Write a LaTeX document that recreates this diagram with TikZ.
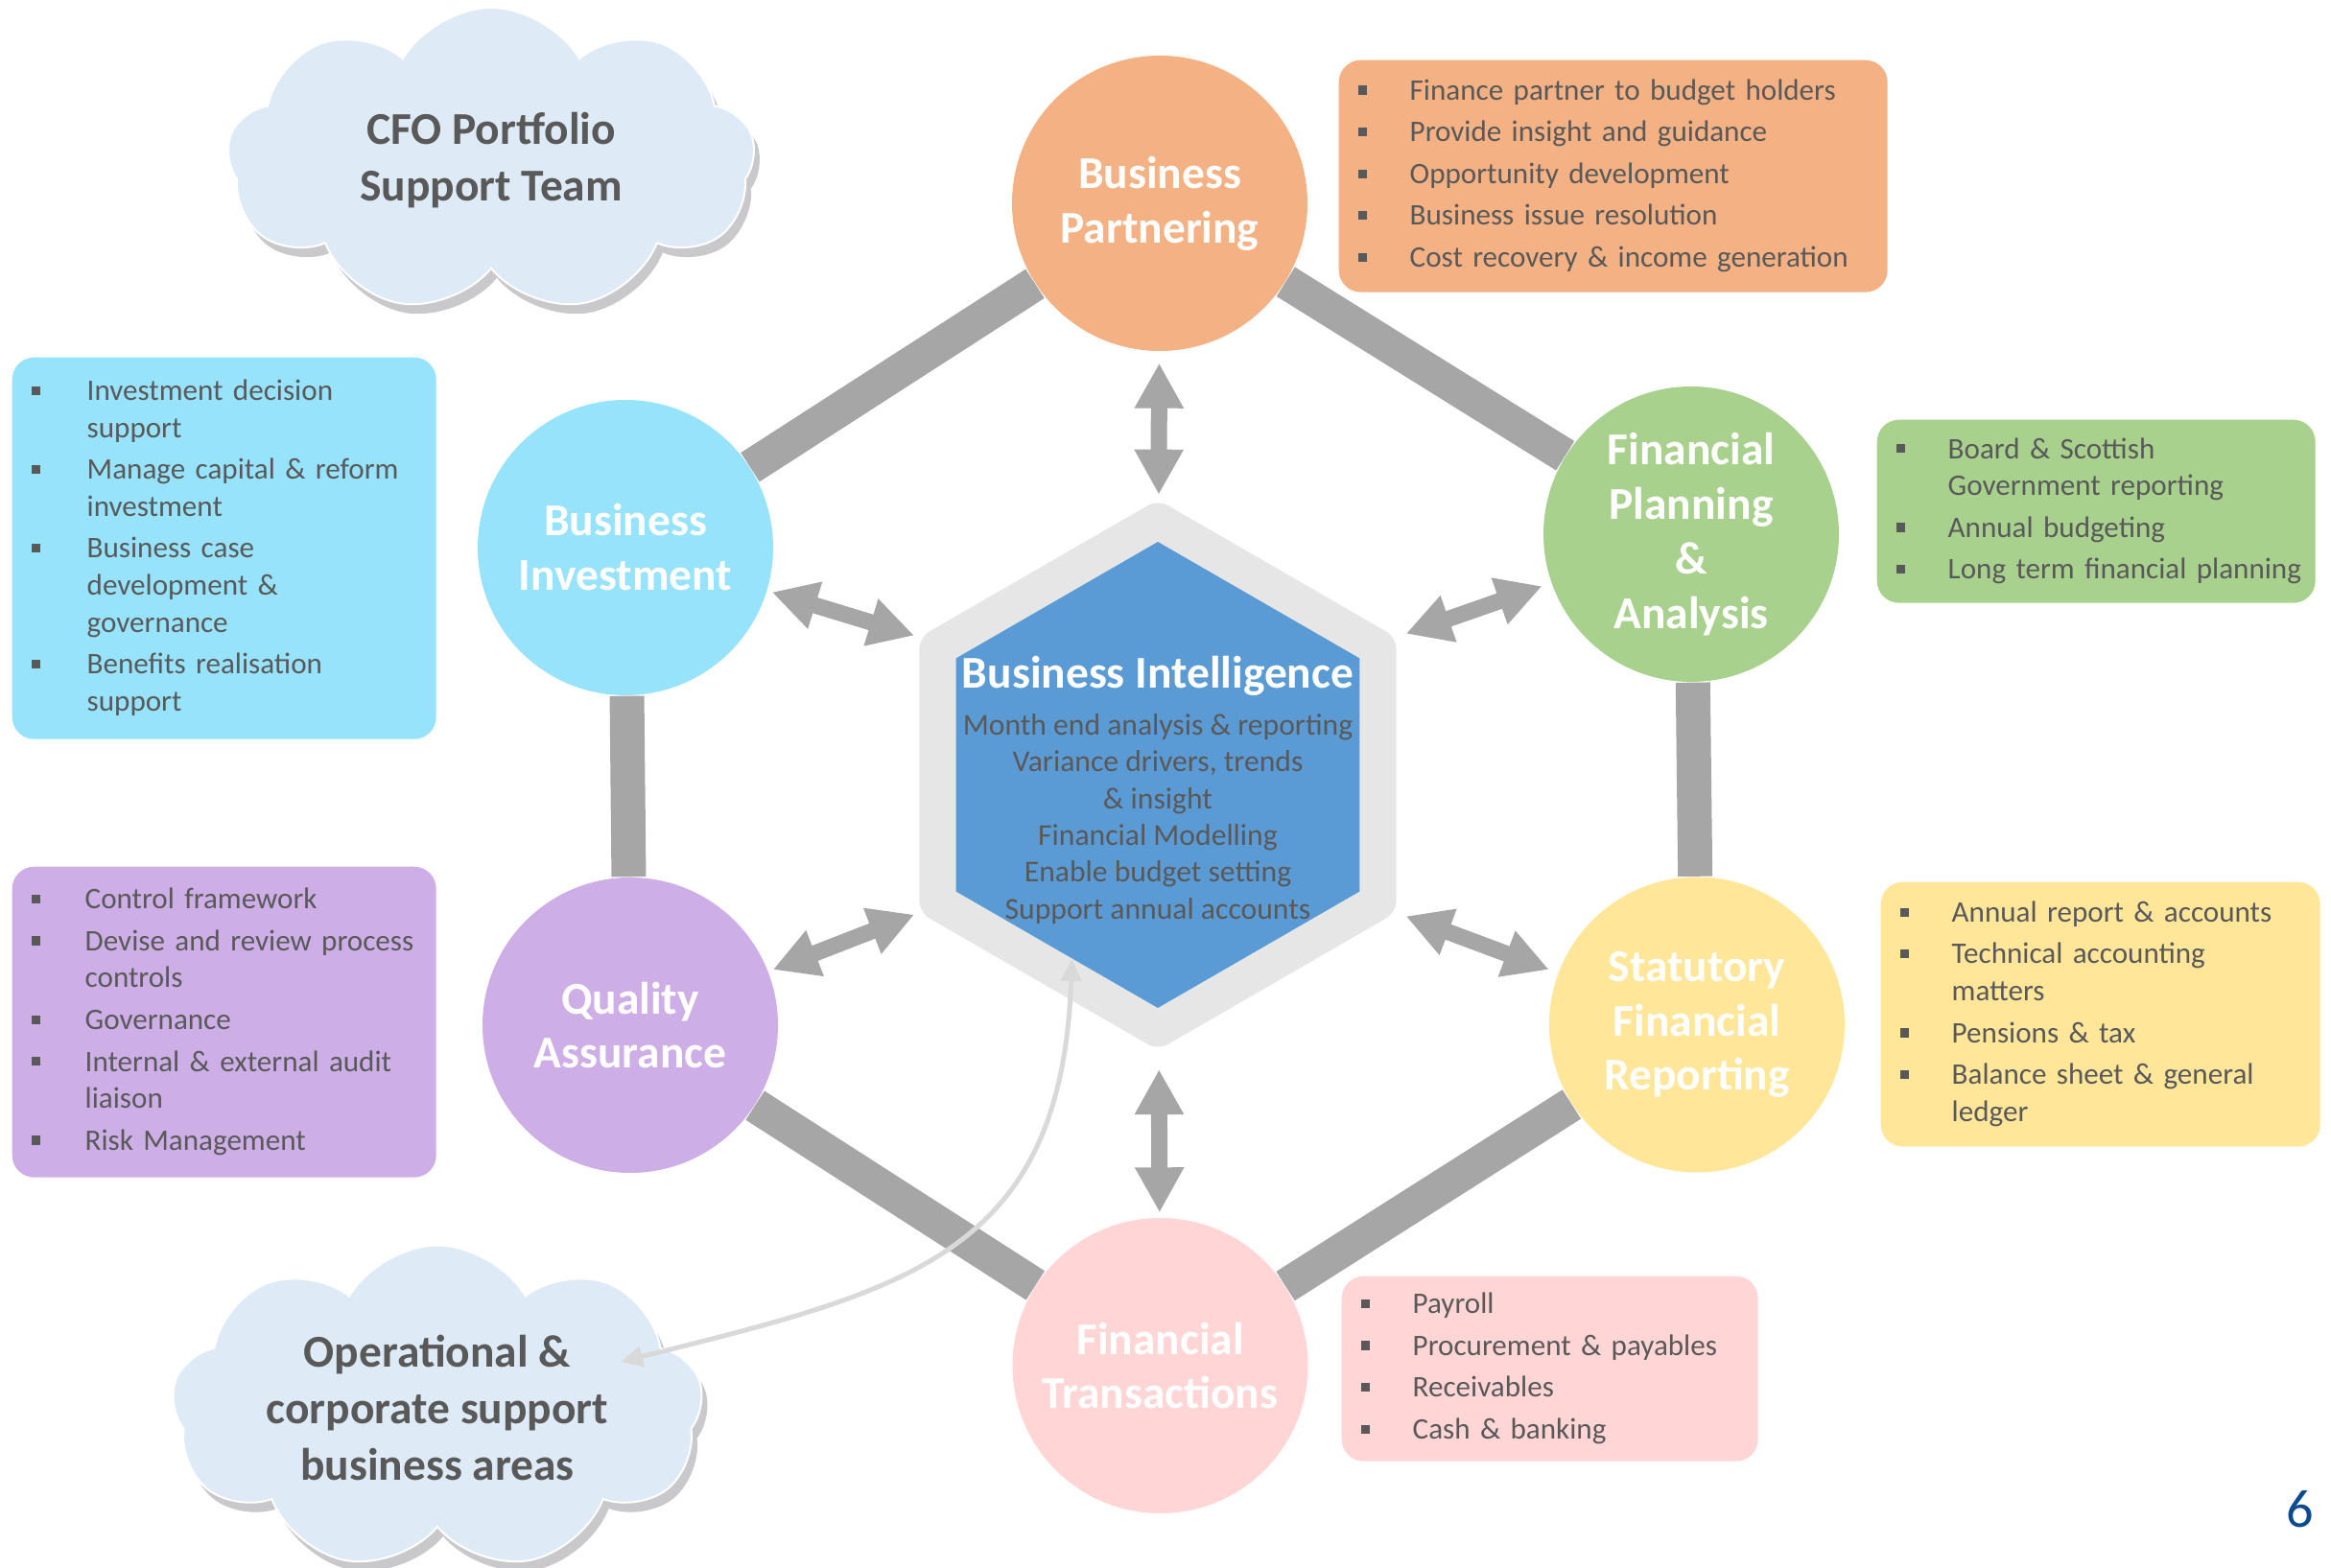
\documentclass[tikz,border=0pt]{standalone}
\usepackage{fontspec}
\setmainfont{Carlito}
\usetikzlibrary{shapes.geometric, shapes.symbols, arrows.meta, shadows}

\definecolor{txtgray}{HTML}{595959}
\definecolor{ringgray}{HTML}{A6A6A6}
\definecolor{curvegray}{HTML}{D9D9D9}
\definecolor{hexgray}{HTML}{E6E6E6}
\definecolor{biblue}{HTML}{5B9BD5}
\definecolor{cloudfill}{HTML}{DEEBF7}
\definecolor{cloudshade}{HTML}{C9C8CA}
\definecolor{bpfill}{HTML}{F4B183}
\definecolor{fpafill}{HTML}{A9D18E}
\definecolor{sfrfill}{HTML}{FFE699}
\definecolor{ftfill}{HTML}{FFD5D5}
\definecolor{qafill}{HTML}{CEAEE6}
\definecolor{binvfill}{HTML}{97E3FC}
\definecolor{pageblue}{HTML}{0B4A8C}

\tikzstyle{unit} = [circle, minimum size=3.08cm, inner sep=0pt, text=white,
    align=center, font=\fontsize{13.5}{16.2}\selectfont\bfseries]
\tikzstyle{listbox} = [rectangle, rounded corners=0.23cm, inner xsep=0.2cm,
    inner ysep=0pt, anchor=north west, text=txtgray,
font=\fontsize{8.85}{11}\selectfont]
\tikzstyle{team} = [cloud, cloud puffs=9, cloud puff arc=120, cloud ignores aspect,
    fill=cloudfill, draw=white, line width=0.02cm, text=txtgray, align=center,
    font=\fontsize{13.5}{16.8}\selectfont\bfseries,
drop shadow={shadow xshift=0.06cm, shadow yshift=-0.1cm, fill=cloudshade, opacity=1}]
\tikzstyle{hexa} = [regular polygon, regular polygon sides=6, shape border rotate=30,
    inner sep=0pt]
\tikzstyle{ring} = [line width=0.36cm, draw=ringgray]
\tikzstyle{biarrow} = [line width=0.17cm, draw=ringgray,
    >={Triangle[width=0.48cm,length=0.47cm]}, <->, shorten <=0.05cm, shorten >=0.05cm]
\tikzstyle{opsarrow} = [line width=0.05cm, draw=curvegray,
    >={Triangle[width=0.21cm,length=0.23cm]}, <->]

\newcommand{\bul}{\rule[1.6pt]{2.6pt}{2.6pt}}

\begin{document}
\begin{tikzpicture}
            \useasboundingbox (0,0) rectangle (24.30,-16.35);
            % Clouds
            \node[team, minimum width=5.5cm, minimum height=3.18cm] (cfo)
            at (5.12,-1.67) {CFO Portfolio\\Support Team};
            \node[team, minimum width=5.5cm, minimum height=3.08cm] (ops)
            at (4.56,-14.68) {Operational \&\\corporate support\\business areas};
            \coordinate (opstip) at (6.47,-14.20);
            % Business Intelligence
            \node[hexa, minimum size=5.74cm, fill=hexgray, rounded corners=0.12cm]
            (hexo) at (12.07,-8.08) {};
            \node[hexa, minimum size=4.86cm, fill=biblue] (bi) at (hexo.center) {};
            \node[align=center, text=txtgray, font=\fontsize{9}{10.95}\selectfont]
            (bilabel) at (12.07,-8.24) {\textcolor{white}{\fontsize{13.5}{13.7}\selectfont\bfseries
            Business Intelligence}\\[2.8pt]
            Month end analysis \& reporting\\ Variance drivers, trends\\ \& insight\\
            Financial Modelling\\ Enable budget setting\\ Support annual accounts};
            % Units
            \node[unit, fill=bpfill] (bp) at (12.09,-2.12) {Business\\Partnering};
            \node[unit, fill=fpafill] (fpa) at (17.63,-5.57) {Financial\\Planning\\\&\\Analysis};
            \node[unit, fill=sfrfill] (sfr) at (17.69,-10.685) {Statutory\\Financial\\Reporting};
            \node[unit, fill=ftfill] (ft) at (12.095,-14.24) {Financial\\Transactions};
            \node[unit, fill=qafill] (qa) at (6.57,-10.69) {Quality\\Assurance};
            \node[unit, fill=binvfill] (binv) at (6.52,-5.71) {Business\\Investment};
            % Lists
            \node[listbox, fill=bpfill, text width=5.32cm, minimum height=2.42cm]
            (bplist) at (13.95,-0.62) {\noindent\begin{tabular}{@{}p{0.54cm}@{}l@{}}
                \bul & Finance partner to budget holders\\[1.4pt]
                \bul & Provide insight and guidance\\[1.4pt]
                \bul & Opportunity development\\[1.4pt]
                \bul & Business issue resolution\\[1.4pt]
                \bul & Cost recovery \& income generation
            \end{tabular}};
            \node[listbox, fill=fpafill, text width=4.17cm, minimum height=1.91cm]
            (fpalist) at (19.56,-4.37) {\noindent\begin{tabular}{@{}p{0.54cm}@{}l@{}}
                \bul & Board \& Scottish\\ & Government reporting\\[1.4pt]
                \bul & Annual budgeting\\[1.4pt]
                \bul & Long term financial planning
            \end{tabular}};
            \node[listbox, fill=sfrfill, text width=4.18cm, minimum height=2.76cm]
            (sfrlist) at (19.60,-9.19) {\noindent\begin{tabular}{@{}p{0.54cm}@{}l@{}}
                \bul & Annual report \& accounts\\[1.4pt]
                \bul & Technical accounting\\ & matters\\[1.4pt]
                \bul & Pensions \& tax\\[1.4pt]
                \bul & Balance sheet \& general\\ & ledger
            \end{tabular}};
            \node[listbox, fill=ftfill, text width=3.94cm, minimum height=1.93cm]
            (ftlist) at (13.98,-13.30) {\noindent\begin{tabular}{@{}p{0.54cm}@{}l@{}}
                \bul & Payroll\\[1.4pt]
                \bul & Procurement \& payables\\[1.4pt]
                \bul & Receivables\\[1.4pt]
                \bul & Cash \& banking
            \end{tabular}};
            \node[listbox, fill=binvfill, text width=4.02cm, minimum height=3.98cm]
            (binvlist) at (0.12,-3.72) {\noindent\begin{tabular}{@{}p{0.58cm}@{}l@{}}
                \bul & Investment decision\\ & support\\[1.4pt]
                \bul & Manage capital \& reform\\ & investment\\[1.4pt]
                \bul & Business case\\ & development \&\\ & governance\\[1.4pt]
                \bul & Benefits realisation\\ & support
            \end{tabular}};
            \node[listbox, fill=qafill, text width=4.02cm, minimum height=3.24cm]
            (qalist) at (0.12,-9.03) {\noindent\begin{tabular}{@{}p{0.56cm}@{}l@{}}
                \bul & Control framework\\[1.4pt]
                \bul & Devise and review process\\ & controls\\[1.4pt]
                \bul & Governance\\[1.4pt]
                \bul & Internal \& external audit\\ & liaison\\[1.4pt]
                \bul & Risk Management
            \end{tabular}};
            % Page number
            \node[text=pageblue, font=\fontsize{16}{19}\selectfont] (page) at (23.98,-15.74) {6};
            % Ring
            \draw[ring] (bp) -- (fpa);
            \draw[ring] (fpa) -- (sfr);
            \draw[ring] (sfr) -- (ft);
            \draw[ring] (ft) -- (qa);
            \draw[ring] (qa) -- (binv);
            \draw[ring] (binv) -- (bp);
            % Arrows
            \draw[biarrow, shorten <=0.12cm] (bp) -- (hexo);
            \draw[biarrow, shorten <=0.1cm, shorten >=0.1cm] (fpa) -- (hexo.30);
            \draw[biarrow, shorten <=0.1cm, shorten >=0.1cm] (sfr) -- (hexo.330);
            \draw[biarrow, shorten <=0.2cm] (hexo) -- (ft);
            \draw[biarrow] (qa) -- (hexo.210);
            \draw[biarrow] (binv) -- (hexo.150);
            \draw[opsarrow] (bi.245) to[out=-92, in=14, looseness=1.25] (opstip);
        \end{tikzpicture}
\end{document}
